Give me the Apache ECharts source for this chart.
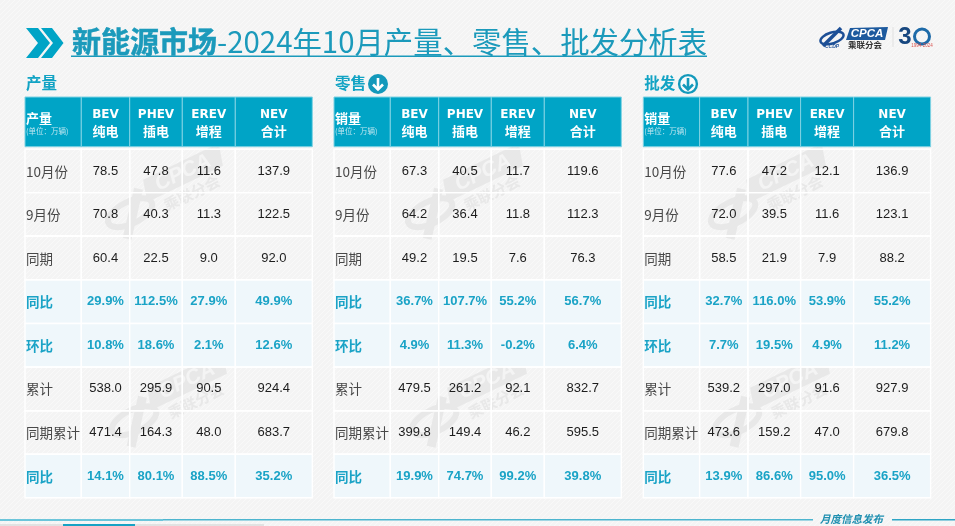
<!DOCTYPE html>
<html><head><meta charset="utf-8">
<style>html,body{margin:0;padding:0;background:#f5f5f5}#c{width:955px;height:526px}</style>
<script src="https://cdn.jsdelivr.net/npm/echarts@6/dist/echarts.min.js"></script>
</head><body><div id="c"></div>
<script>
// ---- data ----
const titleBold = '新能源市场';
const titleRest = '-2024年10月产量、零售、批发分析表';
const headerTop = ['BEV', 'PHEV', 'EREV', 'NEV'];
const headerBottom = ['纯电', '插电', '增程', '合计'];
const rowLabels = ['10月份', '9月份', '同期', '同比', '环比', '累计', '同期累计', '同比'];
const highlightRows = [3, 4, 7];
const sectionNames = ['产量', '零售', '批发'];
const cornerNames = ['产量', '销量', '销量'];
const unitLabel = '(单位：万辆)';

const productionRows = [
  ['78.5', '47.8', '11.6', '137.9'],
  ['70.8', '40.3', '11.3', '122.5'],
  ['60.4', '22.5', '9.0', '92.0'],
  ['29.9%', '112.5%', '27.9%', '49.9%'],
  ['10.8%', '18.6%', '2.1%', '12.6%'],
  ['538.0', '295.9', '90.5', '924.4'],
  ['471.4', '164.3', '48.0', '683.7'],
  ['14.1%', '80.1%', '88.5%', '35.2%']
];
const retailRows = [
  ['67.3', '40.5', '11.7', '119.6'],
  ['64.2', '36.4', '11.8', '112.3'],
  ['49.2', '19.5', '7.6', '76.3'],
  ['36.7%', '107.7%', '55.2%', '56.7%'],
  ['4.9%', '11.3%', '-0.2%', '6.4%'],
  ['479.5', '261.2', '92.1', '832.7'],
  ['399.8', '149.4', '46.2', '595.5'],
  ['19.9%', '74.7%', '99.2%', '39.8%']
];
const wholesaleRows = [
  ['77.6', '47.2', '12.1', '136.9'],
  ['72.0', '39.5', '11.6', '123.1'],
  ['58.5', '21.9', '7.9', '88.2'],
  ['32.7%', '116.0%', '53.9%', '55.2%'],
  ['7.7%', '19.5%', '4.9%', '11.2%'],
  ['539.2', '297.0', '91.6', '927.9'],
  ['473.6', '159.2', '47.0', '679.8'],
  ['13.9%', '86.6%', '95.0%', '36.5%']
];
const tableRows = [productionRows, retailRows, wholesaleRows];

// ---- layout & style ----
const TEAL = '#00a4c6', TEXT_TEAL = '#1aa3c6', DARK = '#1d1d1d', LABEL = '#484848';
const CJK = '"Noto Sans CJK SC","Noto Sans",sans-serif';
const LATIN = '"Liberation Sans",Arial,sans-serif';
const HEADLATIN = '"DejaVu Sans",sans-serif';
const tableLeft = [25, 334, 643.3];
const tableTop = 97, tableW = 287.3, tableH = 400.7;
const colEdges = [0, 56.3, 104.7, 157.3, 210.3, 287.3];
const rowEdges = [0, 49.7, 52.3, 95.6, 139, 183, 226.5, 270, 313.7, 357.2, 400.7];
const FIRST_BODY_EDGE = 2;

function cellData(rows) {
  const out = [];
  out.push(['corner', 0, 0]);
  headerTop.forEach((h, c) => out.push(['head', c + 1, 0, h, headerBottom[c]]));
  rowLabels.forEach((lab, r) => {
    out.push(['label', 0, r, lab]);
    rows[r].forEach((v, c) => out.push(['value', c + 1, r, v]));
  });
  return out;
}

function renderer(tableIdx) {
  return function (params, api) {
    const d = tableData[tableIdx][params.dataIndex];
    const kind = d[0], col = d[1], row = d[2];
    const x0 = api.coord([colEdges[col], 0])[0];
    const x1 = api.coord([colEdges[col + 1], 0])[0];
    let y0, y1;
    if (kind === 'corner' || kind === 'head') { y0 = api.coord([0, rowEdges[0]])[1]; y1 = api.coord([0, rowEdges[1]])[1]; }
    else { y0 = api.coord([0, rowEdges[FIRST_BODY_EDGE + row]])[1]; y1 = api.coord([0, rowEdges[FIRST_BODY_EDGE + row + 1]])[1]; }
    const cx = (x0 + x1) / 2, cy = (y0 + y1) / 2;
    const hi = kind !== 'corner' && kind !== 'head' && highlightRows.includes(row);
    const children = [];
    if (kind === 'corner' || kind === 'head') {
      children.push({ type: 'rect', shape: { x: x0, y: y0, width: x1 - x0, height: y1 - y0 },
        style: { fill: TEAL, stroke: '#7fd2e3', lineWidth: 1 } });
    } else {
      children.push({ type: 'rect', shape: { x: x0, y: y0, width: x1 - x0, height: y1 - y0 },
        style: { fill: hi ? '#eff7fb' : 'rgba(255,255,255,0)', stroke: '#ffffff', lineWidth: 1.4 } });
    }
    if (kind === 'corner') {
      children.push({ type: 'text', style: { text: cornerNames[tableIdx], x: x0 + 1, y: y0 + 21, fill: '#fff',
        font: '700 13px ' + CJK, textAlign: 'left', textVerticalAlign: 'middle' } });
      children.push({ type: 'text', style: { text: unitLabel, x: x0 + 1, y: y0 + 34.5, fill: '#bfe6f0',
        font: '400 7.5px ' + CJK, textAlign: 'left', textVerticalAlign: 'middle' } });
    } else if (kind === 'head') {
      children.push({ type: 'text', style: { text: d[3], x: cx, y: y0 + 18, fill: '#fff',
        font: '700 12px ' + HEADLATIN, textAlign: 'center', textVerticalAlign: 'middle' } });
      children.push({ type: 'text', style: { text: d[4], x: cx, y: y0 + 34, fill: '#fff',
        font: '700 13px ' + CJK, textAlign: 'center', textVerticalAlign: 'middle' } });
    } else if (kind === 'label') {
      children.push({ type: 'text', style: { text: d[3], x: x0 + 1, y: cy + 0.5, fill: hi ? TEXT_TEAL : LABEL,
        font: (hi ? '700 ' : '400 ') + '13.5px ' + CJK, textAlign: 'left', textVerticalAlign: 'middle' } });
    } else {
      children.push({ type: 'text', style: { text: d[3], x: cx, y: cy, fill: hi ? TEXT_TEAL : DARK,
        font: (hi ? '700 ' : '400 ') + '13px ' + LATIN, textAlign: 'center', textVerticalAlign: 'middle' } });
    }
    return { type: 'group', children };
  };
}
const tableData = tableRows.map(cellData);

// ---- hatch background ----
const pat = document.createElement('canvas');
pat.width = pat.height = 5;
const pc = pat.getContext('2d');
pc.fillStyle = '#f4f4f4'; pc.fillRect(0, 0, 5, 5);
pc.strokeStyle = '#f9f9f9'; pc.lineWidth = 1;
pc.beginPath(); pc.moveTo(0, 5); pc.lineTo(5, 0); pc.stroke();

// ---- watermarks ----
function watermark(x, y) {
  const c = '#e8e8e8';
  return { type: 'group', x, y, rotation: 0.45, z: 1, children: [
    { type: 'polygon', z: 1, shape: { points: [[-18, -20], [66, -20], [60, 2], [-24, 2]] }, style: { fill: c } },
    { type: 'text', z: 1, style: { text: 'CPCA', x: 21, y: -9, fill: '#f4f4f4', font: 'italic 700 21px ' + LATIN, textAlign: 'center', textVerticalAlign: 'middle' } },
    { type: 'text', z: 1, style: { text: '乘联分会', x: 20, y: 13, fill: c, font: '700 15px ' + CJK, textAlign: 'center', textVerticalAlign: 'middle' } },
    { type: 'ellipse', z: 1, shape: { cx: -44, cy: 4, rx: 24, ry: 11 }, style: { fill: 'none', stroke: c, lineWidth: 6 } },
    { type: 'line', z: 1, shape: { x1: -26, y1: -14, x2: -58, y2: 26 }, style: { stroke: c, lineWidth: 9 } }
  ] };
}
const wm = [];
[0, 300, 603].forEach(dx => { wm.push(watermark(168 + dx, 190)); wm.push(watermark(172 + dx, 398)); });

// ---- decoration ----
const deco = [
  { type: 'polygon', z: 6, shape: { points: [[26, 28], [38, 28], [50, 43], [38, 58], [26, 58], [38, 43]] }, style: { fill: TEAL } },
  { type: 'polygon', z: 6, shape: { points: [[41, 28], [52, 28], [63.5, 43], [52, 58], [41, 58], [53, 43]] }, style: { fill: TEAL } },
  { type: 'text', z: 6, style: { text: titleBold, x: 72, y: 42, fill: '#1b9abb', stroke: '#1b9abb', lineWidth: 0.5, font: '700 29px ' + CJK, textVerticalAlign: 'middle' } },
  { type: 'text', z: 6, style: { text: titleRest, x: 217, y: 42, fill: '#1b9abb', font: '400 29.4px ' + CJK, textVerticalAlign: 'middle' } },
  { type: 'rect', z: 6, shape: { x: 71, y: 55.5, width: 636, height: 1.6 }, style: { fill: '#1b9abb' } },
  { type: 'rect', z: 6, shape: { x: 0, y: 519, width: 163, height: 2 }, style: { fill: '#6cc5da' } },
  { type: 'rect', z: 6, shape: { x: 163, y: 519, width: 650, height: 1.4 }, style: { fill: '#4db5cf' } },
  { type: 'rect', z: 6, shape: { x: 892, y: 519, width: 63, height: 1.4 }, style: { fill: '#2ea5c5' } },
  { type: 'rect', z: 6, shape: { x: 0, y: 524, width: 264, height: 2 }, style: { fill: '#e2e2e2' } },
  { type: 'rect', z: 7, shape: { x: 63, y: 524, width: 72, height: 2 }, style: { fill: '#17a2c4' } },
  { type: 'text', z: 6, style: { text: '月度信息发布', x: 820, y: 519.5, fill: '#1f8fb0', font: 'italic 700 10.5px ' + CJK, textVerticalAlign: 'middle' } },
  // logo
  { type: 'ellipse', z: 6, shape: { cx: 832, cy: 38, rx: 12, ry: 5.5 }, rotation: 0.3, originX: 832, originY: 38, style: { fill: 'none', stroke: '#1d4f96', lineWidth: 2.4 } },
  { type: 'line', z: 6, shape: { x1: 841, y1: 28, x2: 823, y2: 46 }, style: { stroke: '#1d4f96', lineWidth: 3.5 } },
  { type: 'text', z: 6, style: { text: 'CCDP', x: 832, y: 47, fill: '#1d4f96', font: 'italic 700 5px ' + LATIN, textAlign: 'center', textVerticalAlign: 'middle' } },
  { type: 'polygon', z: 6, shape: { points: [[850, 28], [888, 27], [885, 40], [846, 40]] }, style: { fill: '#1d5a9e' } },
  { type: 'text', z: 7, style: { text: 'CPCA', x: 867, y: 34, fill: '#fff', font: 'italic 700 11.5px ' + LATIN, textAlign: 'center', textVerticalAlign: 'middle' } },
  { type: 'text', z: 6, style: { text: '乘联分会', x: 865, y: 45, fill: '#333', font: '700 8.5px ' + CJK, textAlign: 'center', textVerticalAlign: 'middle' } },
  { type: 'rect', z: 6, shape: { x: 892.5, y: 27, width: 1, height: 20 }, style: { fill: '#e0e0e0' } },
  { type: 'text', z: 6, style: { text: '3', x: 905, y: 37, fill: '#17477f', font: '700 24px ' + LATIN, textAlign: 'center', textVerticalAlign: 'middle' } },
  { type: 'circle', z: 6, shape: { cx: 922, cy: 36.5, r: 7.5 }, style: { fill: 'none', stroke: '#1d6aa8', lineWidth: 3 } },
  { type: 'text', z: 7, style: { text: '1994-2024', x: 922, y: 45.5, fill: '#d9534f', font: '400 4.5px ' + LATIN, textAlign: 'center', textVerticalAlign: 'middle' } }
];
sectionNames.forEach((n, i) => {
  deco.push({ type: 'text', z: 6, style: { text: n, x: tableLeft[i] + 1, y: 83, fill: '#12a3c4', font: '700 15.5px ' + CJK, textVerticalAlign: 'middle' } });
});
// solid icon (retail): filled disc, white arrow; ring icon (wholesale): ring, teal arrow
[[378, true], [688, false]].forEach(([cx, solid]) => {
  const arrow = solid ? '#fff' : '#1399bb';
  deco.push({ type: 'circle', z: 6, shape: { cx, cy: 84, r: solid ? 10 : 8.9 }, style: { fill: solid ? '#1399bb' : '#f7fbfc', stroke: '#1399bb', lineWidth: solid ? 0 : 2.4 } });
  deco.push({ type: 'polyline', z: 7, shape: { points: [[cx, 78], [cx, 89.5]] }, style: { stroke: arrow, lineWidth: 2.6, fill: 'none' } });
  deco.push({ type: 'polyline', z: 7, shape: { points: [[cx - 5, 84.5], [cx, 89.5], [cx + 5, 84.5]] }, style: { stroke: arrow, lineWidth: 2.6, fill: 'none' } });
});

const option = {
  animation: false,
  backgroundColor: { image: pat, repeat: 'repeat' },
  grid: tableLeft.map(left => ({ left, top: tableTop, width: tableW, height: tableH, show: false })),
  xAxis: tableLeft.map((_, i) => ({ type: 'value', gridIndex: i, min: 0, max: tableW, show: false })),
  yAxis: tableLeft.map((_, i) => ({ type: 'value', gridIndex: i, min: 0, max: tableH, inverse: true, show: false })),
  series: tableLeft.map((_, i) => ({
    type: 'custom', xAxisIndex: i, yAxisIndex: i, z: 5, clip: false, silent: true,
    renderItem: renderer(i),
    encode: { x: 1, y: 2 },
    data: tableData[i].map(d => d.map(v => v))
  })),
  graphic: { elements: wm.concat(deco) }
};
const chart = echarts.init(document.getElementById('c'), null, { renderer: 'canvas' });
chart.setOption(option);
</script></body></html>
